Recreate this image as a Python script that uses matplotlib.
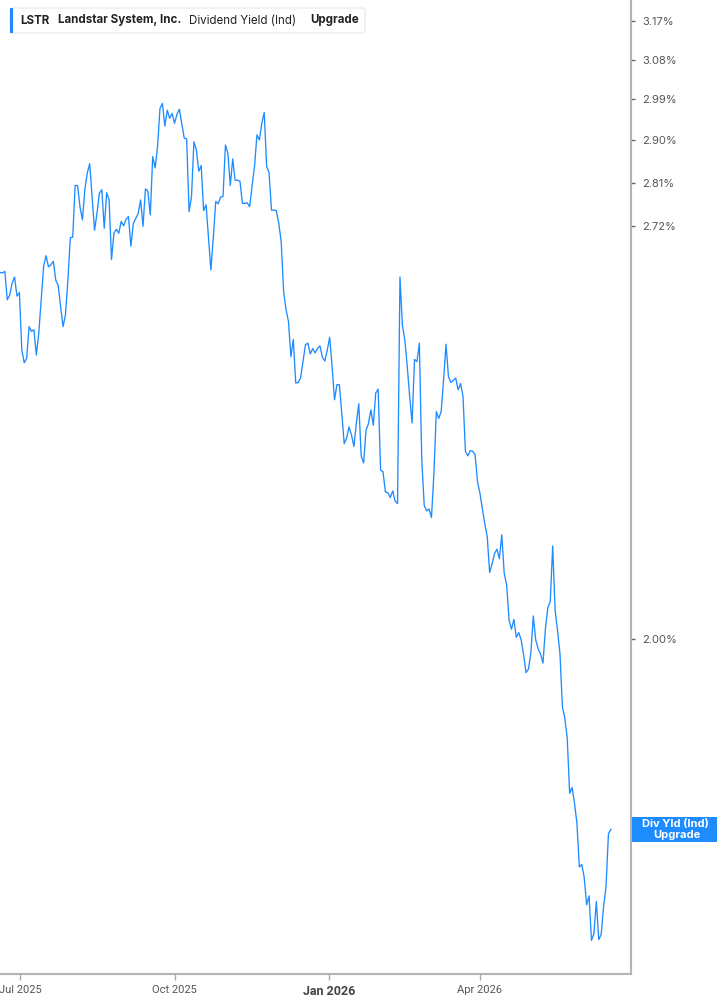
import numpy as np
import pandas as pd
import matplotlib
matplotlib.use('Agg')
import matplotlib.pyplot as plt
import matplotlib.dates as mdates
from matplotlib.patches import Rectangle, FancyBboxPatch
from matplotlib.ticker import FixedLocator, NullLocator

# LSTR dividend yield (%), roughly one value per trading day
yld = [2.628, 2.627, 2.630, 2.575, 2.584, 2.607, 2.619, 2.582, 2.589, 2.480,
       2.457, 2.465, 2.524, 2.515, 2.518, 2.471, 2.512, 2.575, 2.640, 2.661,
       2.639, 2.643, 2.650, 2.613, 2.603, 2.562, 2.524, 2.546, 2.613, 2.697,
       2.698, 2.804, 2.804, 2.760, 2.733, 2.795, 2.830, 2.850, 2.781, 2.712,
       2.746, 2.788, 2.795, 2.716, 2.789, 2.774, 2.653, 2.706, 2.714, 2.706,
       2.730, 2.721, 2.734, 2.740, 2.680, 2.726, 2.736, 2.746, 2.774, 2.720,
       2.797, 2.792, 2.743, 2.865, 2.841, 2.887, 2.970, 2.981, 2.931, 2.966,
       2.948, 2.959, 2.937, 2.957, 2.968, 2.937, 2.905, 2.903, 2.750, 2.781,
       2.897, 2.880, 2.834, 2.846, 2.752, 2.764, 2.698, 2.633, 2.698, 2.771,
       2.766, 2.780, 2.781, 2.890, 2.872, 2.804, 2.860, 2.815, 2.815, 2.813,
       2.767, 2.767, 2.768, 2.760, 2.804, 2.844, 2.912, 2.901, 2.937, 2.961,
       2.844, 2.831, 2.753, 2.753, 2.752, 2.726, 2.689, 2.591, 2.556, 2.534,
       2.468, 2.500, 2.420, 2.421, 2.429, 2.459, 2.490, 2.493, 2.473, 2.483,
       2.475, 2.483, 2.488, 2.467, 2.460, 2.480, 2.504, 2.450, 2.390, 2.417,
       2.417, 2.366, 2.313, 2.323, 2.342, 2.328, 2.308, 2.348, 2.383, 2.292,
       2.280, 2.336, 2.348, 2.372, 2.345, 2.402, 2.409, 2.268, 2.265, 2.231,
       2.230, 2.222, 2.233, 2.216, 2.212, 2.619, 2.527, 2.499, 2.450, 2.396,
       2.349, 2.463, 2.459, 2.493, 2.285, 2.209, 2.200, 2.203, 2.189, 2.262,
       2.369, 2.357, 2.369, 2.426, 2.491, 2.432, 2.421, 2.425, 2.429, 2.408,
       2.419, 2.396, 2.300, 2.292, 2.301, 2.300, 2.294, 2.248, 2.229, 2.203,
       2.179, 2.158, 2.101, 2.115, 2.131, 2.138, 2.123, 2.161, 2.100, 2.082,
       2.028, 2.014, 2.029, 2.002, 2.009, 1.998, 1.976, 1.950, 1.955, 1.979,
       2.034, 1.998, 1.985, 1.977, 1.964, 2.015, 2.047, 2.056, 2.143, 2.043,
       2.012, 1.978, 1.901, 1.885, 1.857, 1.782, 1.790, 1.769, 1.743, 1.687,
       1.690, 1.674, 1.640, 1.651, 1.597, 1.605, 1.644, 1.598, 1.604, 1.638,
       1.662, 1.729, 1.735]
dates = pd.date_range('2025-06-19', '2026-06-18', periods=len(yld))

ytick_vals = [2.00, 2.72, 2.81, 2.90, 2.99, 3.08, 3.17]
xtick_dates = pd.to_datetime(['2025-07-01', '2025-10-01', '2026-01-01', '2026-04-01'])
xtick_labels = ['Jul 2025', 'Oct 2025', 'Jan 2026', 'Apr 2026']

blue = '#1e8bff'
W, H = 717, 1005

fig = plt.figure(figsize=(W / 100, H / 100), dpi=100)
ax = fig.add_axes([0, 31 / H, 631 / W, 1 - 31 / H])

ax.plot(dates, yld, color=blue, lw=0.95)

ax.set_yscale('log')
ax.set_ylim(1.5575, 3.220)
ax.set_xlim(dates[0], pd.Timestamp('2026-06-30'))

ax.yaxis.tick_right()
ax.yaxis.set_major_locator(FixedLocator(ytick_vals))
ax.yaxis.set_minor_locator(NullLocator())
ax.set_yticks(ytick_vals)
ax.set_yticklabels(['%.2f%%' % v for v in ytick_vals])
ax.tick_params(axis='y', which='major', length=3, width=1, color='#666666',
               labelsize=8, labelcolor='#555555', pad=5)

ax.set_xticks(xtick_dates)
ax.set_xticklabels(xtick_labels)
ax.tick_params(axis='x', length=4, width=1, color='#aaaaaa',
               labelsize=8, labelcolor='#555555', pad=4)
for lab in ax.get_xticklabels():
    lab.set_fontfamily('Roboto')
    if lab.get_text() == 'Jan 2026':
        lab.set_fontweight('bold')
        lab.set_fontsize(9)
        lab.set_color('#444444')
for lab in ax.get_yticklabels():
    lab.set_fontfamily('Inter')

for s in ['left', 'top']:
    ax.spines[s].set_visible(False)
for s in ['right', 'bottom']:
    ax.spines[s].set_color('#b4b4b4')
    ax.spines[s].set_linewidth(1.5)

# header box
def fx(px):
    return px / W

def fy(py):
    return 1 - py / H

hdr = FancyBboxPatch((fx(10), fy(33)), fx(355), 25 / H,
                     boxstyle='round,pad=0,rounding_size=0.004',
                     transform=fig.transFigure, facecolor='white',
                     edgecolor='#e6e6e6', lw=0.8, zorder=5)
fig.patches.append(hdr)
fig.patches.append(Rectangle((fx(10), fy(33)), fx(3), 25 / H, transform=fig.transFigure,
                             facecolor=blue, edgecolor='none', zorder=6))
hy = fy(20.5)
hfs = 8.3
fig.text(fx(20), hy, 'LSTR', fontsize=hfs, fontweight='bold', color='#222222',
         va='center', family='Inter', zorder=7)
fig.text(fx(58), hy, 'Landstar System, Inc.', fontsize=hfs, fontweight='bold',
         color='#222222', va='center', family='Inter', zorder=7)
fig.text(fx(189), hy, 'Dividend Yield (Ind)', fontsize=hfs, color='#222222',
         va='center', family='Inter', zorder=7)
fig.text(fx(310), hy, 'Upgrade', fontsize=hfs, fontweight='bold', color='#222222',
         va='center', family='Inter', zorder=7)

# last value tag on the right axis
fig.canvas.draw()
last_py = ax.transData.transform((mdates.date2num(dates[-1]), yld[-1]))[1]
fig.patches.append(Rectangle((fx(632), (last_py - 12.5) / H), fx(85), 25 / H,
                             transform=fig.transFigure, facecolor=blue,
                             edgecolor='none', zorder=6))
fig.text(fx(675), (last_py + 5.5) / H, 'Div Yld (Ind)', fontsize=8, fontweight='bold',
         color='white', ha='center', va='center', family='Inter', zorder=7)
fig.text(fx(677), (last_py - 5.5) / H, 'Upgrade', fontsize=8, fontweight='bold',
         color='white', ha='center', va='center', family='Inter', zorder=7)

fig.savefig('out.png', dpi=100)
